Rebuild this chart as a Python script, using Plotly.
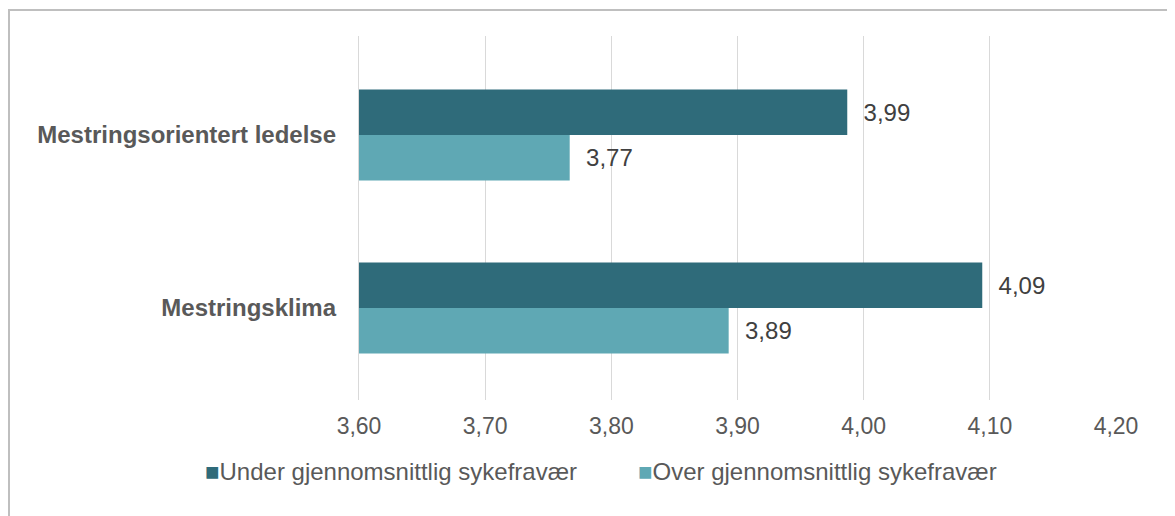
import plotly.graph_objects as go

categories = ["Mestringsorientert ledelse", "Mestringsklima"]
series_names = ["Under gjennomsnittlig sykefravær", "Over gjennomsnittlig sykefravær"]
under_values = [3.987, 4.094]
over_values = [3.767, 3.893]
series_values = [under_values, over_values]
series_colors = ["#2F6B7A", "#5FA8B4"]
x_tick_values = [3.6, 3.7, 3.8, 3.9, 4.0, 4.1, 4.2]

W, H = 1175, 516
OFF = 8  # page body margin
L, R, T, B = 359 - OFF, 1116 - OFF, 36 - OFF, 400 - OFF

def px_x(p):
    return (p - OFF - L) / (R - L)

def px_y(p):
    return (B - (p - OFF)) / (B - T)

FONT = "Liberation Sans, Arial"

fig = go.Figure()
for name, vals, col in zip(series_names, series_values, series_colors):
    fig.add_trace(go.Bar(
        y=categories, x=vals, name=name, orientation="h",
        marker=dict(color=col, line=dict(width=0)),
        texttemplate="\u00a0\u00a0%{x:.2f}", textposition="outside",
        textfont=dict(family=FONT, size=24, color="#404040"),
        cliponaxis=False, showlegend=False,
    ))

# legend imitation built from series names / colours
legend_x = [203, 636]
for name, col, lx in zip(series_names, series_colors, legend_x):
    fig.add_annotation(
        x=px_x(lx), y=px_y(471), xref="paper", yref="paper",
        xanchor="left", yanchor="middle", showarrow=False,
        text=f'<span style="color:{col}">■</span>{name}',
        font=dict(family=FONT, size=24, color="#595959"),
    )

fig.add_shape(type="rect", xref="paper", yref="paper",
              x0=px_x(9), x1=px_x(1200), y0=px_y(10), y1=px_y(560),
              line=dict(color="#BFBFBF", width=2), layer="below")

fig.update_layout(
    width=W, height=H,
    margin=dict(l=L, r=W - R, t=T, b=H - B),
    paper_bgcolor="white", plot_bgcolor="white",
    separators=", ",
    barmode="group", bargap=0.474, bargroupgap=0,
    font=dict(family=FONT, color="#595959"),
    xaxis=dict(range=[3.6, 4.2], tickvals=x_tick_values, tickformat=".2f",
               showgrid=True, gridcolor="#D9D9D9", gridwidth=1.3,
               zeroline=False, showline=False, ticks="",
               tickfont=dict(size=23, color="#595959"), ticklabelstandoff=10),
    yaxis=dict(autorange=False, range=[1.532, -0.572], type="category",
               showgrid=False, zeroline=False,
               showline=True, linecolor="#D9D9D9", linewidth=1.3, ticks="",
               tickfont=dict(size=24, color="#595959", weight="bold"),
               ticklabelstandoff=17),
)

fig.write_html("out.html")
